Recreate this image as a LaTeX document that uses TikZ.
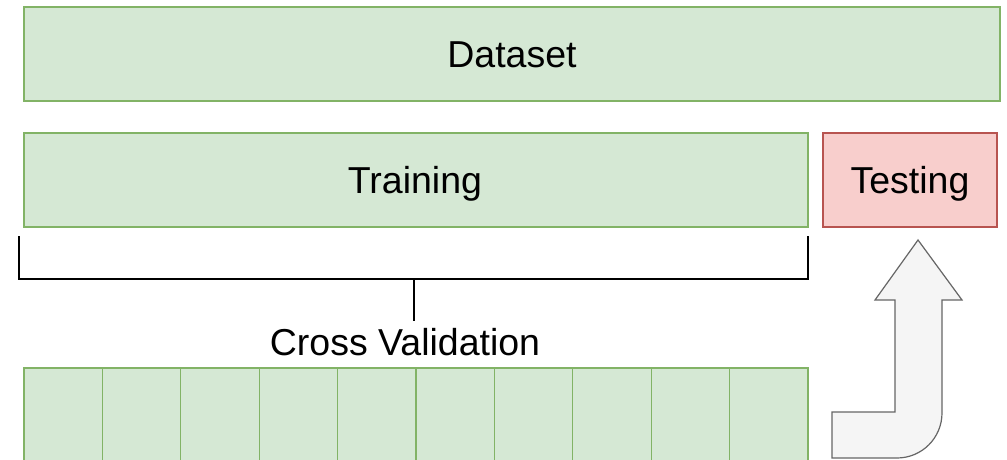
\documentclass[tikz,border=0pt]{standalone}
\usepackage{fontspec}
\setmainfont{Liberation Sans}
\definecolor{gfill}{HTML}{D5E8D4}
\definecolor{gline}{HTML}{82B366}
\definecolor{rfill}{HTML}{F8CECC}
\definecolor{rline}{HTML}{B85450}
\definecolor{afill}{HTML}{F5F5F5}
\definecolor{aline}{HTML}{666666}
\begin{document}
\begin{tikzpicture}[x=1pt,y=-1pt,
  greenbox/.style={draw=gline,fill=gfill,line width=1.2pt},
  redbox/.style={draw=rline,fill=rfill,line width=1.2pt},
  lbl/.style={font=\fontsize{37.5}{40}\selectfont,text=black,anchor=base,inner sep=0pt},
  brace/.style={draw=black,line width=2pt}]
\useasboundingbox (0,0) rectangle (1007,460);
\clip (0,0) rectangle (1007,460);
\fill[white] (0,0) rectangle (1007,460);
% boxes
\draw[greenbox] (24,7) rectangle (1000,101);
\node[lbl] (dataset) at (512,67) {Dataset};
\draw[greenbox] (24,133) rectangle (808,227);
\node[lbl] (training) at (415,193) {Training};
\draw[redbox] (823,133) rectangle (997,227);
\node[lbl] (testing) at (910,193) {Testing};
% bracket
\coordinate (bl) at (19,236);
\coordinate (br) at (808,236);
\coordinate (bm) at (414,279);
\draw[brace,line cap=butt] (bl) |- (br |- bm) -- (br);
\node[lbl] (cv) at (405,355) {Cross Validation};
\draw[brace] (bm) -- (414,321);
% folds
\foreach \i in {0,...,9}{
  \pgfmathsetmacro{\xa}{24+78.4*\i}
  \pgfmathsetmacro{\xb}{24+78.4*(\i+1)}
  \draw[greenbox] (\xa,368) rectangle (\xb,466);
  \node[inner sep=0pt] (f\i) at ({(\xa+\xb)/2},414) {};
}
% bent arrow
\draw[draw=aline,fill=afill,line width=1.2pt,line join=miter]
  (832,412) -- (895,412) -- (895,300) -- (875,300) -- (918,240) -- (962,300)
  -- (942,300) -- (942,413) arc[start angle=0,end angle=90,radius=45]
  -- (832,458) -- cycle;
\end{tikzpicture}
\end{document}
